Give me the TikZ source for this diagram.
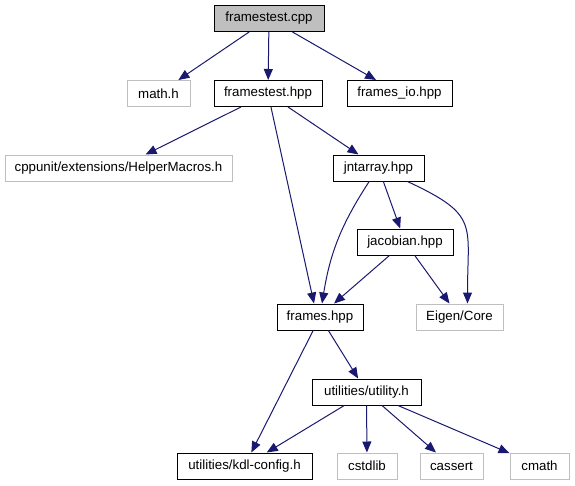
\documentclass[tikz,border=0pt]{standalone}
\usepackage{fontspec}
\setmainfont{Liberation Sans}
\usetikzlibrary{arrows.meta}
\definecolor{edgeblue}{HTML}{191970}
\definecolor{extgray}{HTML}{BFBFBF}
\begin{document}
\begin{tikzpicture}[x=1pt,y=-1pt,
  file/.style={draw=black,line width=1pt,minimum height=26pt,inner xsep=0pt,
    font=\fontsize{13.3}{16}\selectfont},
  extfile/.style={file,draw=extgray,line width=1pt},
  dep/.style={edgeblue,line width=1pt,-{Triangle[length=11pt,width=9pt]}}]

\useasboundingbox (0,0) rectangle (575,485);

\node[file,fill=extgray,minimum width=110pt]
(FC)
at (269,18.5)
{framestest.cpp};

\node[extfile,minimum width=63pt]
(MH)
at (158.5,93.5)
{math.h};

\node[file,minimum width=108pt]
(FH)
at (268,93.5)
{framestest.hpp};

\node[file,minimum width=105pt]
(FIO)
at (399.5,93.5)
{frames\_io.hpp};

\node[extfile,minimum width=227pt]
(CU)
at (118.5,168)
{cppunit/extensions/HelperMacros.h};

\node[file,minimum width=91pt]
(JA)
at (378.5,168)
{jntarray.hpp};

\node[file,minimum width=96pt]
(JB)
at (405,242)
{jacobian.hpp};

\node[file,minimum width=86pt]
(FR)
at (320,317)
{frames.hpp};

\node[extfile,minimum width=87pt]
(EC)
at (459.5,317)
{Eigen/Core};

\node[file,minimum width=109pt]
(UT)
at (366.5,392)
{utilities/utility.h};

\node[file,minimum width=135pt]
(KC)
at (244.5,466)
{utilities/kdl-config.h};

\node[extfile,minimum width=60pt]
(CS)
at (367,466)
{cstdlib};

\node[extfile,minimum width=63pt]
(CA)
at (451.5,466)
{cassert};

\node[extfile,minimum width=59pt]
(CM)
at (539.5,466)
{cmath};

% includes of framestest.cpp
\draw[dep] (FC) -- (MH);
\draw[dep] (FC) -- (FH);
\draw[dep] (FC) -- (FIO);

% includes of framestest.hpp
\draw[dep] (FH) -- (CU);
\draw[dep] (FH) -- ([xshift=-6pt]FR.north);
\draw[dep] (FH) -- (JA);

% jntarray and jacobian
\draw[dep] (JA) to[bend right=12] ([xshift=2pt]FR.north);
\draw[dep] (JA) -- (JB);
\draw[dep] (JA) to[out=-25,in=90,looseness=1.5] ([xshift=8pt]EC.north);
\draw[dep] (JB) -- ([xshift=14pt]FR.north);
\draw[dep] (JB) -- ([xshift=-10pt]EC.north);

% frames.hpp and utility.h
\draw[dep] (FR) -- (KC);
\draw[dep] (FR) -- (UT);
\draw[dep] (UT) -- (KC);
\draw[dep] (UT) -- (CS);
\draw[dep] (UT) -- (CA);
\draw[dep] (UT) -- (CM);

\end{tikzpicture}
\end{document}
